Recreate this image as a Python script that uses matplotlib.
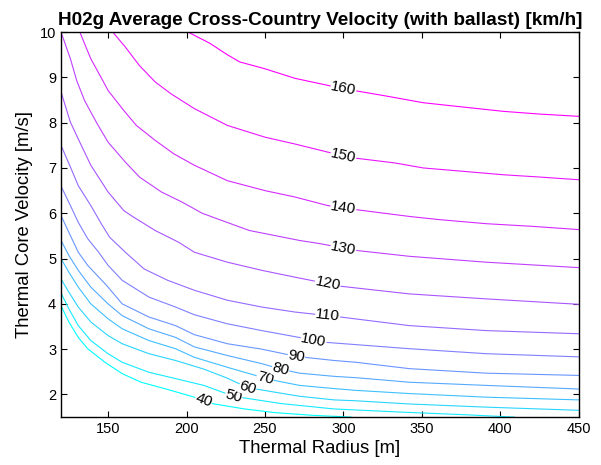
import numpy as np
import matplotlib
matplotlib.use('Agg')
import matplotlib.pyplot as plt

plt.rcParams['font.family'] = ['Liberation Sans', 'DejaVu Sans']

levels = [40, 50, 60, 70, 80, 90, 100, 110, 120, 130, 140, 150, 160]

# contour lines: thermal radius [m] -> core velocity [m/s]
x40 = [120, 125, 131, 137, 148, 159, 171, 186, 201, 211, 216, 237, 256, 280, 305]
y40 = [3.96, 3.6, 3.26, 3.01, 2.71, 2.46, 2.27, 2.13, 1.98, 1.88, 1.8, 1.68, 1.6, 1.54, 1.5]
x50 = [120, 125, 131, 139, 150, 159, 176, 193, 211, 230, 260, 294, 337, 379, 409]
y50 = [4.24, 3.89, 3.52, 3.19, 2.9, 2.71, 2.49, 2.35, 2.2, 1.96, 1.8, 1.68, 1.61, 1.55, 1.5]
x60 = [120, 125, 131, 139, 150, 159, 176, 193, 211, 226, 239, 272, 294, 308, 342, 391, 450]
y60 = [4.55, 4.26, 3.93, 3.6, 3.3, 3.12, 2.9, 2.75, 2.56, 2.36, 2.15, 1.96, 1.88, 1.86, 1.79, 1.72, 1.65]
x70 = [120, 125, 131, 139, 150, 159, 176, 193, 205, 226, 243, 250, 272, 294, 308, 342, 391, 450]
y70 = [5.0, 4.7, 4.37, 4.0, 3.67, 3.45, 3.19, 3.01, 2.82, 2.6, 2.43, 2.35, 2.2, 2.13, 2.09, 2.02, 1.94, 1.88]
x80 = [120, 125, 131, 139, 150, 159, 176, 193, 205, 226, 248, 260, 272, 294, 308, 342, 391, 450]
y80 = [5.4, 5.07, 4.74, 4.37, 4.0, 3.74, 3.45, 3.26, 3.05, 2.86, 2.68, 2.56, 2.47, 2.4, 2.37, 2.27, 2.2, 2.12]
x90 = [120, 125, 131, 137, 149, 159, 176, 193, 205, 226, 248, 270, 294, 308, 342, 391, 450]
y90 = [5.95, 5.58, 5.14, 4.85, 4.41, 4.0, 3.71, 3.52, 3.32, 3.12, 3.0, 2.84, 2.75, 2.71, 2.57, 2.47, 2.42]
x100 = [120, 126, 131, 137, 144, 150, 159, 176, 193, 205, 226, 248, 289, 308, 342, 391, 450]
y100 = [6.6, 6.17, 5.8, 5.44, 5.14, 4.85, 4.52, 4.15, 3.93, 3.76, 3.56, 3.41, 3.15, 3.1, 3.01, 2.9, 2.83]
x110 = [120, 126, 131, 139, 146, 151, 161, 173, 188, 205, 226, 248, 269, 298, 342, 391, 450]
y110 = [7.5, 7.02, 6.61, 6.17, 5.75, 5.47, 5.14, 4.77, 4.52, 4.3, 4.08, 3.93, 3.82, 3.71, 3.52, 3.41, 3.34]
x120 = [120, 126, 131, 139, 150, 160, 166, 180, 195, 205, 226, 248, 269, 298, 342, 391, 450]
y120 = [8.68, 8.01, 7.64, 7.06, 6.47, 6.06, 5.92, 5.62, 5.36, 5.14, 4.92, 4.74, 4.59, 4.39, 4.22, 4.11, 3.99]
x130 = [120, 126, 130, 135, 143, 150, 161, 170, 184, 197, 210, 221, 240, 272, 285, 308, 342, 391, 450]
y130 = [10, 9.41, 8.93, 8.49, 7.98, 7.57, 7.13, 6.8, 6.47, 6.25, 6.0, 5.86, 5.62, 5.4, 5.33, 5.18, 5.05, 4.92, 4.8]
x140 = [132, 139, 146, 150, 160, 168, 180, 192, 205, 226, 250, 269, 290, 308, 342, 361, 391, 421, 450]
y140 = [10, 9.41, 8.97, 8.71, 8.27, 7.94, 7.61, 7.31, 7.06, 6.72, 6.5, 6.36, 6.17, 6.08, 5.93, 5.86, 5.77, 5.71, 5.64]
x150 = [153, 161, 170, 180, 190, 205, 226, 250, 269, 290, 307, 333, 351, 375, 402, 425, 450]
y150 = [10, 9.67, 9.26, 8.9, 8.64, 8.31, 7.94, 7.68, 7.53, 7.35, 7.22, 7.11, 7.0, 6.93, 6.85, 6.8, 6.74]
x160 = [201, 215, 226, 234, 250, 269, 300, 327, 351, 375, 402, 425, 450]
y160 = [10, 9.75, 9.5, 9.34, 9.19, 8.98, 8.75, 8.59, 8.44, 8.35, 8.25, 8.19, 8.14]

xs = [x40, x50, x60, x70, x80, x90, x100, x110, x120, x130, x140, x150, x160]
ys = [y40, y50, y60, y70, y80, y90, y100, y110, y120, y130, y140, y150, y160]

# where along each line the label sits (thermal radius)
label_x = [211, 230, 239, 250, 260, 270, 281, 290, 290, 300, 300, 300, 300]

fig = plt.figure(figsize=(6.01, 4.65), dpi=100)
ax = fig.add_axes([0.1015, 0.103, 0.8615, 0.828])

norm = matplotlib.colors.Normalize(min(levels), max(levels))
for lev, x, y in zip(levels, xs, ys):
    ax.plot(x, y, color=plt.cm.cool(norm(lev)), lw=0.8)

ax.set_xlim(120, 450)
ax.set_ylim(1.5, 10)
fig.canvas.draw()

for lev, x, y, lx in zip(levels, xs, ys, label_x):
    ly = np.interp(lx, x, y)
    p0 = ax.transData.transform((lx - 5, np.interp(lx - 5, x, y)))
    p1 = ax.transData.transform((lx + 5, np.interp(lx + 5, x, y)))
    ang = np.degrees(np.arctan2(p1[1] - p0[1], p1[0] - p0[0]))
    ax.text(lx, ly, str(lev), rotation=ang, rotation_mode='anchor',
            ha='center', va='center', fontsize=11, color='black',
            bbox=dict(facecolor='white', edgecolor='none', pad=0.2))

ax.set_xticks([150, 200, 250, 300, 350, 400, 450])
ax.set_yticks([2, 3, 4, 5, 6, 7, 8, 9, 10])
ax.tick_params(direction='in', top=True, right=True, length=4, labelsize=10.5)
for s in ax.spines.values():
    s.set_linewidth(1.0)

ax.set_xlabel('Thermal Radius [m]', fontsize=13.3, labelpad=3)
ax.set_ylabel('Thermal Core Velocity [m/s]', fontsize=13.3, labelpad=5)
ax.set_title('H02g Average Cross-Country Velocity (with ballast) [km/h]',
             fontsize=13.7, fontweight='bold', pad=5)

fig.savefig('out.png', dpi=100)
